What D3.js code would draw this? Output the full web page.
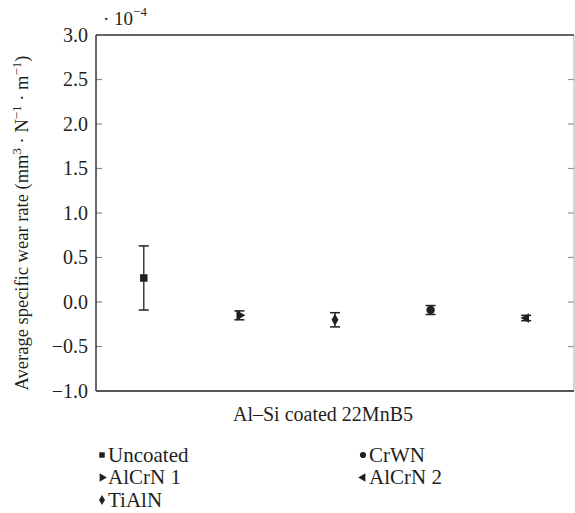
<!DOCTYPE html>
<html>
<head>
<meta charset="utf-8">
<script src="https://cdn.jsdelivr.net/npm/d3@7"></script>
</head>
<body style="margin:0">
<svg id="chart" width="575" height="513" style="font-family: serif"></svg>
<script>
// Coating groups tested on Al–Si coated 22MnB5
const categories = ["Uncoated", "AlCrN 1", "TiAlN", "CrWN", "AlCrN 2"];
// Mean specific wear rate (×10⁻⁴ mm³·N⁻¹·m⁻¹)
const means = [0.27, -0.15, -0.20, -0.09, -0.18];
// Error bar half-widths (same unit)
const errors = [0.36, 0.05, 0.08, 0.05, 0.03];
// Y axis ticks
const yTicks = [-1.0, -0.5, 0.0, 0.5, 1.0, 1.5, 2.0, 2.5, 3.0];
// Legend layout: two columns
const legendCols = [["Uncoated", "AlCrN 1", "TiAlN"], ["CrWN", "AlCrN 2"]];

const symbolFor = {
  "Uncoated": { type: d3.symbolSquare, rot: 0 },
  "AlCrN 1": { type: d3.symbolTriangle, rot: 90 },
  "TiAlN":   { type: d3.symbolDiamond, rot: 0 },
  "CrWN":    { type: d3.symbolCircle, rot: 0 },
  "AlCrN 2": { type: d3.symbolTriangle, rot: -90 }
};

const ink = "#231f20";
const svg = d3.select("#chart");
const m = { left: 96, right: 574, top: 35, bottom: 391 };

const x = d3.scaleBand().domain(categories).range([m.left, m.right]).padding(0);
const y = d3.scaleLinear().domain([-1, 3]).range([m.bottom, m.top]);

function txt(sel, size) {
  return sel.style("font-family", "serif").attr("font-size", size).attr("fill", ink);
}

// Right frame edge with inward ticks
svg.append("line")
  .attr("x1", m.right).attr("x2", m.right)
  .attr("y1", m.top).attr("y2", m.bottom)
  .attr("stroke", "#bbb").attr("stroke-width", 1.2);
svg.append("g").selectAll("line").data(yTicks.slice(1, -1)).join("line")
  .attr("x1", m.right - 6).attr("x2", m.right)
  .attr("y1", d => y(d)).attr("y2", d => y(d))
  .attr("stroke", "#999").attr("stroke-width", 1.2);

// Left axis labels placed by the scale, inward tick marks
const fmt = d3.format(".1f");
svg.append("g").selectAll("text").data(yTicks).join("text")
  .attr("x", m.left - 8).attr("y", d => y(d)).attr("dy", "0.34em")
  .attr("text-anchor", "end")
  .call(s => txt(s, 20))
  .text(d => d < 0 ? "\u2212" + fmt(-d) : fmt(d));
svg.append("g").selectAll("line").data(yTicks.slice(1, -1)).join("line")
  .attr("x1", m.left).attr("x2", m.left + 6)
  .attr("y1", d => y(d)).attr("y2", d => y(d))
  .attr("stroke", "#888").attr("stroke-width", 1.2);

// Frame: left, top, bottom
svg.append("line").attr("x1", m.left).attr("x2", m.left).attr("y1", m.top).attr("y2", m.bottom)
  .attr("stroke", "#333").attr("stroke-width", 1.5);
svg.append("line").attr("x1", m.left).attr("x2", m.right).attr("y1", m.top).attr("y2", m.top)
  .attr("stroke", "#333").attr("stroke-width", 1.5);
svg.append("line").attr("x1", m.left).attr("x2", m.right).attr("y1", m.bottom).attr("y2", m.bottom)
  .attr("stroke", "#555").attr("stroke-width", 2);

// Exponent note
const expo = txt(svg.append("text").attr("x", 103).attr("y", 25), 19);
expo.append("tspan").text("\u00b7 10");
expo.append("tspan").attr("dy", -9).attr("font-size", 13).text("\u22124");

// Y axis title
const yt = txt(svg.append("text")
  .attr("transform", `translate(28,${(m.top + m.bottom) / 2 + 10}) rotate(-90)`)
  .attr("text-anchor", "middle"), 18.5);
yt.append("tspan").text("Average specific wear rate (mm");
yt.append("tspan").attr("dy", -7).attr("font-size", 13).text("3");
yt.append("tspan").attr("dy", 7).text(" \u00b7 N");
yt.append("tspan").attr("dy", -7).attr("font-size", 13).text("\u22121");
yt.append("tspan").attr("dy", 7).text(" \u00b7 m");
yt.append("tspan").attr("dy", -7).attr("font-size", 13).text("\u22121");
yt.append("tspan").attr("dy", 7).text(")");

// X axis title
txt(svg.append("text").attr("x", 323).attr("y", 421)
  .attr("text-anchor", "middle"), 20)
  .text("Al\u2013Si coated 22MnB5");

// Error bars and markers
const pts = categories.map((c, i) => ({ c, v: means[i], e: errors[i] }));
const cx = d => x(d.c) + x.bandwidth() / 2;
const g = svg.append("g");
g.selectAll("line.err").data(pts).join("line").attr("class", "err")
  .attr("x1", cx).attr("x2", cx)
  .attr("y1", d => y(d.v + d.e)).attr("y2", d => y(d.v - d.e))
  .attr("stroke", ink).attr("stroke-width", 1.3);
[1, -1].forEach(s => {
  g.selectAll(s > 0 ? "line.capt" : "line.capb").data(pts).join("line")
    .attr("class", s > 0 ? "capt" : "capb")
    .attr("x1", d => cx(d) - 5).attr("x2", d => cx(d) + 5)
    .attr("y1", d => y(d.v + s * d.e))
    .attr("y2", d => y(d.v + s * d.e))
    .attr("stroke", ink).attr("stroke-width", 1.5);
});
const markerSize = { "Uncoated": 56, "AlCrN 1": 46, "TiAlN": 42, "CrWN": 56, "AlCrN 2": 40 };
g.selectAll("path.mk").data(pts).join("path").attr("class", "mk")
  .attr("d", d => d3.symbol().type(symbolFor[d.c].type).size(markerSize[d.c])())
  .attr("transform", d => `translate(${cx(d)},${y(d.v)}) rotate(${symbolFor[d.c].rot})`)
  .attr("fill", ink);

// Legend
const legX = [102, 363];
const legY0 = 455, legDy = 22.5;
legendCols.forEach((col, ci) => {
  col.forEach((name, ri) => {
    const yy = legY0 + ri * legDy;
    svg.append("path")
      .attr("d", d3.symbol().type(symbolFor[name].type).size(30)())
      .attr("transform", `translate(${legX[ci]},${yy}) rotate(${symbolFor[name].rot})`)
      .attr("fill", ink);
    txt(svg.append("text").attr("x", legX[ci] + 6).attr("y", yy + 6.5), 21).text(name);
  });
});
</script>
</body>
</html>
